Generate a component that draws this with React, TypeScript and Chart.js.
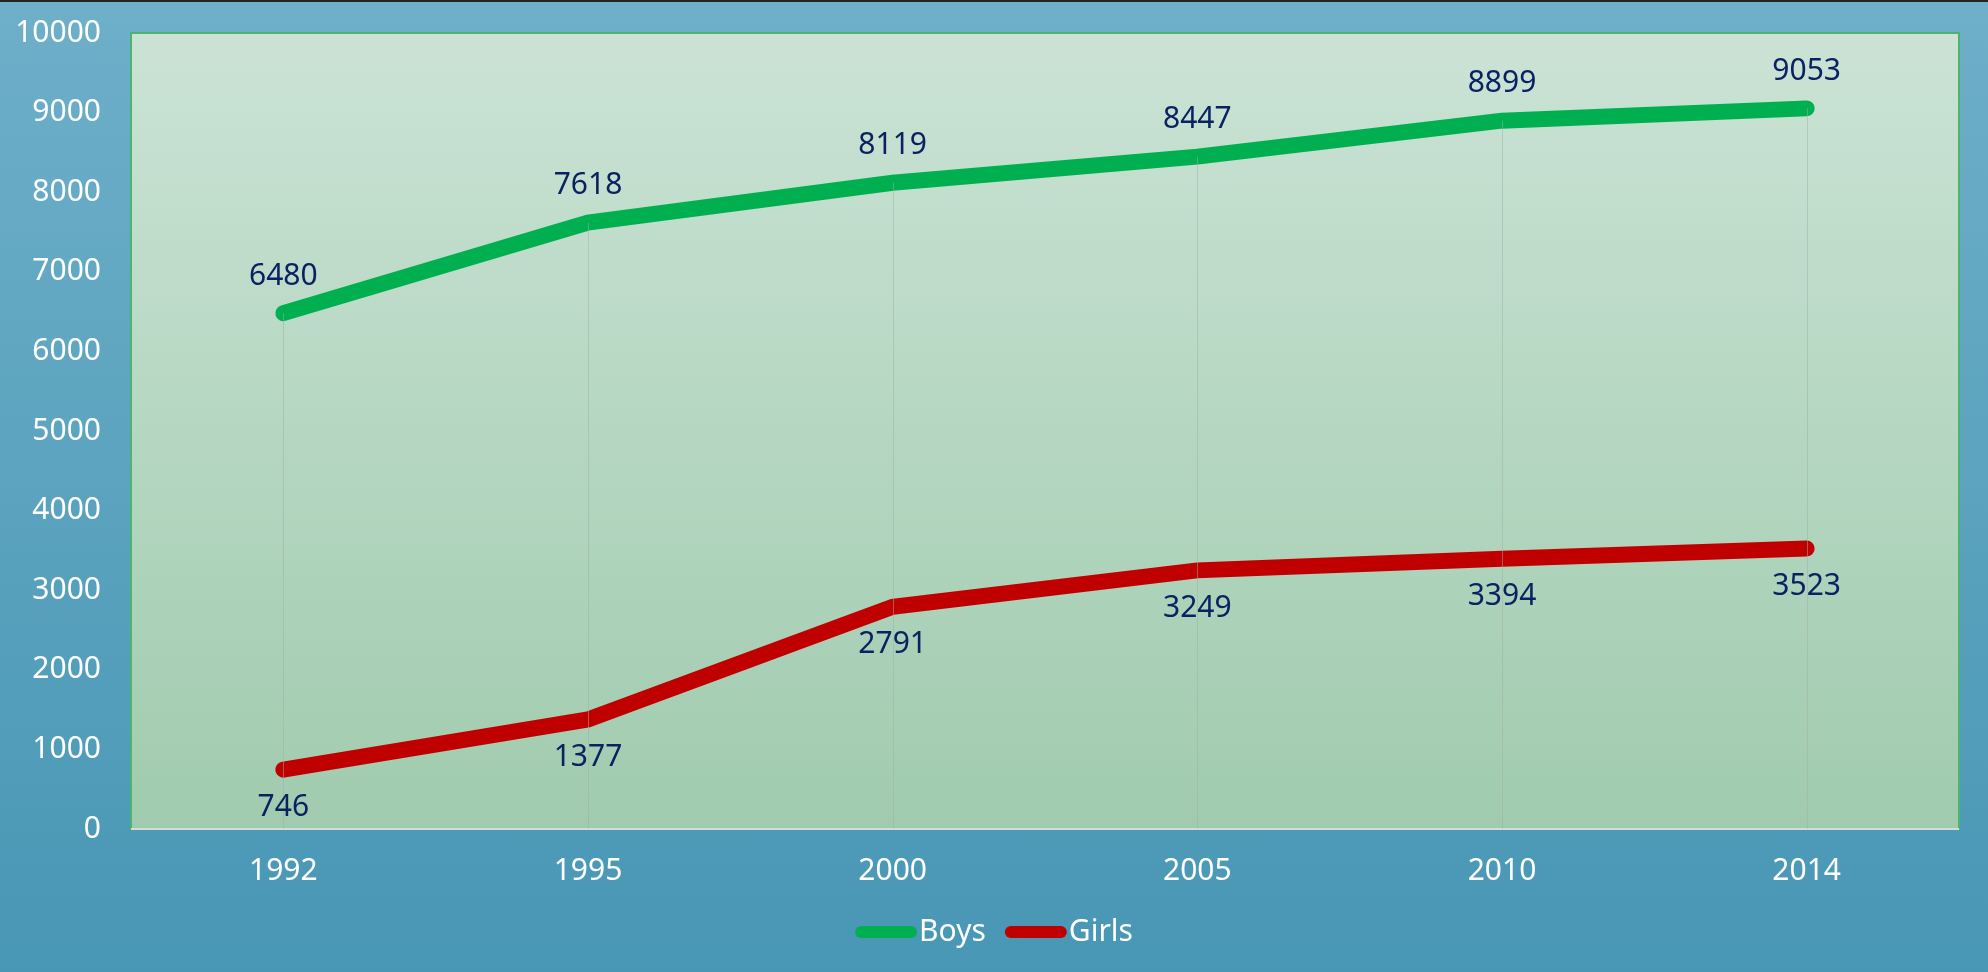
import React, { useEffect, useRef } from 'react';
import { Chart, registerables } from 'chart.js';
Chart.register(...registerables);

const years = ['1992', '1995', '2000', '2005', '2010', '2014'];
const boys = [6480, 7618, 8119, 8447, 8899, 9053];
const girls = [746, 1377, 2791, 3249, 3394, 3523];
const seriesNames = ['Boys', 'Girls'];
const seriesColors = ['#00B050', '#C00000'];
const yMin = 0;
const yMax = 10000;
const yStep = 1000;

const FONT = '"Noto Sans", sans-serif';
const FS = 30;

export default function App() {
  const ref = useRef<HTMLCanvasElement>(null);
  useEffect(() => {
    document.body.style.margin = '0';
    const canvas = ref.current!;

    const plotBg = {
      id: 'plotBg',
      beforeDraw(chart: any) {
        const { ctx, chartArea: a } = chart;
        ctx.save();
        ctx.fillStyle = '#232323';
        ctx.fillRect(0, 0, chart.width, 2);
        const g = ctx.createLinearGradient(0, a.top, 0, a.bottom);
        g.addColorStop(0, '#CBE3D5');
        g.addColorStop(1, '#A0CBAE');
        ctx.fillStyle = g;
        ctx.fillRect(a.left, a.top, a.right - a.left, a.bottom - a.top);
        ctx.strokeStyle = '#4DB36E';
        ctx.lineWidth = 2;
        ctx.strokeRect(a.left, a.top, a.right - a.left, a.bottom - a.top);
        ctx.strokeStyle = '#D4DCD6';
        ctx.lineWidth = 2;
        ctx.beginPath();
        ctx.moveTo(a.left, a.bottom);
        ctx.lineTo(a.right, a.bottom);
        ctx.stroke();
        ctx.restore();
      },
      afterDatasetsDraw(chart: any) {
        const { ctx, chartArea: a } = chart;
        ctx.save();
        // drop lines (drawn over the series, faint)
        ctx.strokeStyle = 'rgba(160,175,168,0.5)';
        ctx.lineWidth = 1;
        const n = chart.data.labels.length;
        for (let i = 0; i < n; i++) {
          let top = Infinity;
          let x = 0;
          chart.data.datasets.forEach((_d: any, di: number) => {
            const el = chart.getDatasetMeta(di).data[i];
            if (el.y < top) { top = el.y; x = el.x; }
          });
          ctx.beginPath();
          ctx.moveTo(Math.round(x) + 0.5, top);
          ctx.lineTo(Math.round(x) + 0.5, a.bottom);
          ctx.stroke();
        }
        // data labels
        ctx.font = `${FS}px ${FONT}`;
        ctx.fillStyle = '#0B2262';
        ctx.textAlign = 'center';
        ctx.textBaseline = 'middle';
        chart.data.datasets.forEach((d: any, di: number) => {
          const meta = chart.getDatasetMeta(di);
          meta.data.forEach((el: any, i: number) => {
            const off = di === 0 ? -37 : 38;
            ctx.fillText(String(d.data[i]), el.x, el.y + off);
          });
        });
        ctx.restore();
      },
      afterDraw(chart: any) {
        const { ctx } = chart;
        ctx.save();
        ctx.font = `${FS}px ${FONT}`;
        const lineW = 62;
        const gapText = 2;
        const gapItem = 19;
        const items = chart.data.datasets.map((d: any) => ({
          label: d.label,
          color: d.borderColor,
          w: lineW + gapText + ctx.measureText(d.label).width,
        }));
        const total = items.reduce((s: number, it: any) => s + it.w, 0) + gapItem * (items.length - 1);
        let x = chart.width / 2 - total / 2;
        const y = 932;
        items.forEach((it: any) => {
          ctx.strokeStyle = it.color;
          ctx.lineWidth = 12;
          ctx.lineCap = 'round';
          ctx.beginPath();
          ctx.moveTo(x + 6, y);
          ctx.lineTo(x + lineW - 6, y);
          ctx.stroke();
          ctx.fillStyle = '#FFFFFF';
          ctx.textAlign = 'left';
          ctx.textBaseline = 'middle';
          ctx.fillText(it.label, x + lineW + gapText, y);
          x += it.w + gapItem;
        });
        ctx.restore();
      },
    };

    const chart = new Chart(canvas, {
      type: 'line',
      data: {
        labels: years,
        datasets: [
          {
            label: seriesNames[0],
            data: boys,
            borderColor: seriesColors[0],
            backgroundColor: seriesColors[0],
            borderWidth: 16,
            borderCapStyle: 'round',
            borderJoinStyle: 'miter',
            pointRadius: 0,
            tension: 0,
          },
          {
            label: seriesNames[1],
            data: girls,
            borderColor: seriesColors[1],
            backgroundColor: seriesColors[1],
            borderWidth: 16,
            borderCapStyle: 'round',
            borderJoinStyle: 'miter',
            pointRadius: 0,
            tension: 0,
          },
        ],
      },
      options: {
        responsive: false,
        maintainAspectRatio: false,
        animation: false,
        layout: { padding: { top: 33, right: 29, left: 0, bottom: 0 } },
        plugins: {
          legend: { display: false },
          tooltip: { enabled: false },
        },
        scales: {
          x: {
            type: 'category',
            offset: true,
            grid: { display: false, drawTicks: false },
            border: { display: false },
            ticks: { color: '#FFFFFF', font: { family: FONT, size: FS }, padding: 24, maxRotation: 0 },
            afterFit: (s: any) => { s.height = 143; },
          },
          y: {
            min: yMin,
            max: yMax,
            grid: { display: false, drawTicks: false },
            border: { display: false },
            ticks: {
              stepSize: yStep,
              color: '#FFFFFF',
              font: { family: FONT, size: FS },
              padding: 30,
              callback: (v: any) => String(v),
            },
            afterFit: (s: any) => {
              s.width = 131;
              s.paddingTop = 0;
              s.paddingBottom = 0;
            },
          },
        },
      },
      plugins: [plotBg],
    } as any);
    return () => chart.destroy();
  }, []);

  return (
    <div
      style={{
        width: 1988,
        height: 972,
        background: 'linear-gradient(180deg, #6EAFC9 0%, #4897B5 100%)',
      }}
    >
      <canvas ref={ref} width={1988} height={972} style={{ display: 'block' }} />
    </div>
  );
}
